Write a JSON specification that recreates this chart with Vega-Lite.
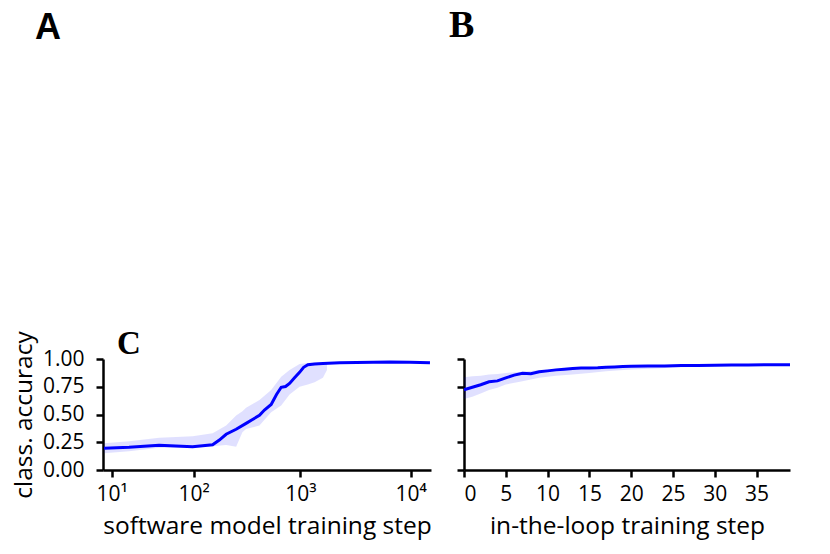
{
  "$schema": "https://vega.github.io/schema/vega-lite/v6.json",
  "padding": {"left": 11, "top": 7, "right": 10, "bottom": 5},
  "config": {
    "view": {"stroke": null},
    "font": "Open Sans",
    "axis": {
      "grid": false,
      "domainColor": "black",
      "domainWidth": 2.5,
      "tickColor": "black",
      "tickWidth": 2.5,
      "tickSize": 7,
      "labelColor": "black",
      "labelFont": "Open Sans",
      "labelFontSize": 21,
      "labelOverlap": false,
      "titleColor": "black",
      "titleFont": "Open Sans",
      "titleFontSize": 24.5,
      "titleFontWeight": "normal"
    }
  },
  "datasets": {
    "leftLine": [
      {"step": 7.07, "acc": 0.196},
      {"step": 18.7, "acc": 0.205},
      {"step": 43.6, "acc": 0.224},
      {"step": 97.4, "acc": 0.21},
      {"step": 153, "acc": 0.228},
      {"step": 177.5, "acc": 0.27},
      {"step": 206, "acc": 0.322},
      {"step": 256, "acc": 0.367},
      {"step": 317, "acc": 0.42},
      {"step": 364, "acc": 0.455},
      {"step": 422, "acc": 0.493},
      {"step": 469, "acc": 0.54},
      {"step": 541, "acc": 0.59},
      {"step": 606, "acc": 0.68},
      {"step": 669, "acc": 0.745},
      {"step": 733, "acc": 0.752},
      {"step": 798, "acc": 0.78},
      {"step": 886, "acc": 0.83},
      {"step": 985, "acc": 0.88},
      {"step": 1072, "acc": 0.925},
      {"step": 1173, "acc": 0.948},
      {"step": 1351, "acc": 0.955},
      {"step": 1608, "acc": 0.96},
      {"step": 2282, "acc": 0.967},
      {"step": 3236, "acc": 0.969},
      {"step": 6494, "acc": 0.973},
      {"step": 9864, "acc": 0.971},
      {"step": 14976, "acc": 0.967}
    ],
    "leftBand": [
      {"step": 7.07, "lo": 0.151, "hi": 0.241},
      {"step": 18.7, "lo": 0.17, "hi": 0.26},
      {"step": 43.6, "lo": 0.2, "hi": 0.29},
      {"step": 97.4, "lo": 0.2, "hi": 0.305},
      {"step": 153, "lo": 0.215, "hi": 0.33},
      {"step": 206, "lo": 0.225, "hi": 0.4},
      {"step": 256, "lo": 0.21, "hi": 0.49},
      {"step": 293, "lo": 0.34, "hi": 0.53},
      {"step": 317, "lo": 0.37, "hi": 0.56},
      {"step": 422, "lo": 0.4, "hi": 0.63},
      {"step": 541, "lo": 0.52, "hi": 0.72},
      {"step": 669, "lo": 0.58, "hi": 0.84},
      {"step": 798, "lo": 0.68, "hi": 0.9},
      {"step": 985, "lo": 0.75, "hi": 0.955},
      {"step": 1173, "lo": 0.77, "hi": 0.965},
      {"step": 1351, "lo": 0.79, "hi": 0.968},
      {"step": 1608, "lo": 0.83, "hi": 0.968},
      {"step": 1750, "lo": 0.9, "hi": 0.965}
    ],
    "rightLine": [
      {"step": 0, "acc": 0.723}, {"step": 1, "acc": 0.745}, {"step": 2, "acc": 0.768},
      {"step": 3, "acc": 0.795}, {"step": 4, "acc": 0.803}, {"step": 5, "acc": 0.83},
      {"step": 6, "acc": 0.855}, {"step": 7, "acc": 0.872}, {"step": 8, "acc": 0.868},
      {"step": 9, "acc": 0.885}, {"step": 10, "acc": 0.893}, {"step": 11, "acc": 0.902},
      {"step": 12, "acc": 0.908}, {"step": 13, "acc": 0.915}, {"step": 14, "acc": 0.92},
      {"step": 15, "acc": 0.92}, {"step": 16, "acc": 0.921}, {"step": 17, "acc": 0.926},
      {"step": 18, "acc": 0.929}, {"step": 19, "acc": 0.932}, {"step": 20, "acc": 0.934},
      {"step": 22, "acc": 0.936}, {"step": 24, "acc": 0.938}, {"step": 26, "acc": 0.941},
      {"step": 28, "acc": 0.942}, {"step": 30, "acc": 0.944}, {"step": 32, "acc": 0.946},
      {"step": 34, "acc": 0.946}, {"step": 36, "acc": 0.948}, {"step": 38, "acc": 0.948},
      {"step": 39, "acc": 0.948}
    ],
    "rightBand": [
      {"step": 0, "lo": 0.64, "hi": 0.835}, {"step": 1, "lo": 0.66, "hi": 0.845},
      {"step": 2, "lo": 0.69, "hi": 0.85}, {"step": 3, "lo": 0.72, "hi": 0.86},
      {"step": 4, "lo": 0.74, "hi": 0.865}, {"step": 5, "lo": 0.77, "hi": 0.875},
      {"step": 7, "lo": 0.8, "hi": 0.885}, {"step": 9, "lo": 0.83, "hi": 0.9},
      {"step": 11, "lo": 0.85, "hi": 0.91}, {"step": 13, "lo": 0.86, "hi": 0.92},
      {"step": 15, "lo": 0.875, "hi": 0.925}, {"step": 17, "lo": 0.89, "hi": 0.93},
      {"step": 20, "lo": 0.905, "hi": 0.937}, {"step": 23, "lo": 0.915, "hi": 0.942},
      {"step": 26, "lo": 0.925, "hi": 0.945}, {"step": 30, "lo": 0.935, "hi": 0.948},
      {"step": 35, "lo": 0.94, "hi": 0.951}, {"step": 39, "lo": 0.942, "hi": 0.952}
    ],
    "empty": []
  },
  "columns": 2,
  "bounds": "flush",
  "spacing": {"row": 14, "column": 33},
  "concat": [
    {
      "title": {"text": "A", "anchor": "start", "frame": "group", "dx": -68, "offset": 5, "baseline": "alphabetic", "font": "Liberation Sans", "fontSize": 36, "fontWeight": "bold", "color": "black"},
      "width": 328, "height": 265,
      "data": {"name": "empty"},
      "mark": "point"
    },
    {
      "title": {"text": "B", "anchor": "start", "frame": "group", "dx": -15, "offset": 5, "baseline": "alphabetic", "font": "Liberation Serif", "fontSize": 38, "fontWeight": "bold", "color": "black"},
      "width": 326, "height": 265,
      "data": {"name": "empty"},
      "mark": "point"
    },
    {
      "title": {"text": "C", "anchor": "start", "frame": "group", "dx": 14, "offset": -56, "baseline": "alphabetic", "font": "Liberation Serif", "fontSize": 33, "fontWeight": "bold", "color": "black"},
      "width": 328, "height": 111,
      "layer": [
        {
          "data": {"name": "leftBand"},
          "mark": {"type": "area", "color": "#0000ff", "opacity": 0.12},
          "encoding": {
            "x": {"field": "step", "type": "quantitative"},
            "y": {"field": "lo", "type": "quantitative", "axis": {"values": [0, 0.25, 0.5, 0.75, 1], "labelOverlap": false}},
            "y2": {"field": "hi"}
          }
        },
        {
          "data": {"name": "leftLine"},
          "mark": {"type": "line", "color": "#0000ff", "strokeWidth": 3},
          "encoding": {
            "x": {"field": "step", "type": "quantitative",
              "scale": {"type": "symlog", "constant": 10, "domain": [6.68, 15300], "nice": false},
              "axis": {"title": "software model training step", "values": [10, 100, 1000, 10000],
                "labelExpr": "datum.value == 10 ? '10¹' : datum.value == 100 ? '10²' : datum.value == 1000 ? '10³' : '10⁴'",
                "labelPadding": 6, "titlePadding": 10}},
            "y": {"field": "acc", "type": "quantitative",
              "scale": {"domain": [0, 1], "nice": false},
              "axis": {"title": "class. accuracy", "values": [0, 0.25, 0.5, 0.75, 1], "labelOverlap": false, "format": ".2f", "labelPadding": 12, "titlePadding": 6}}
          }
        }
      ]
    },
    {
      "width": 326, "height": 111,
      "layer": [
        {
          "data": {"name": "rightBand"},
          "mark": {"type": "area", "color": "#0000ff", "opacity": 0.12},
          "encoding": {
            "x": {"field": "step", "type": "quantitative"},
            "y": {"field": "lo", "type": "quantitative", "axis": {"values": [0, 0.25, 0.5, 0.75, 1]}},
            "y2": {"field": "hi"}
          }
        },
        {
          "data": {"name": "rightLine"},
          "mark": {"type": "line", "color": "#0000ff", "strokeWidth": 3},
          "encoding": {
            "x": {"field": "step", "type": "quantitative",
              "scale": {"domain": [0, 39], "nice": false},
              "axis": {"title": "in-the-loop training step", "values": [0, 5, 10, 15, 20, 25, 30, 35], "labelPadding": 6, "titlePadding": 10}},
            "y": {"field": "acc", "type": "quantitative",
              "scale": {"domain": [0, 1], "nice": false},
              "axis": {"title": null, "labels": false, "values": [0, 0.25, 0.5, 0.75, 1]}}
          }
        }
      ]
    }
  ]
}
